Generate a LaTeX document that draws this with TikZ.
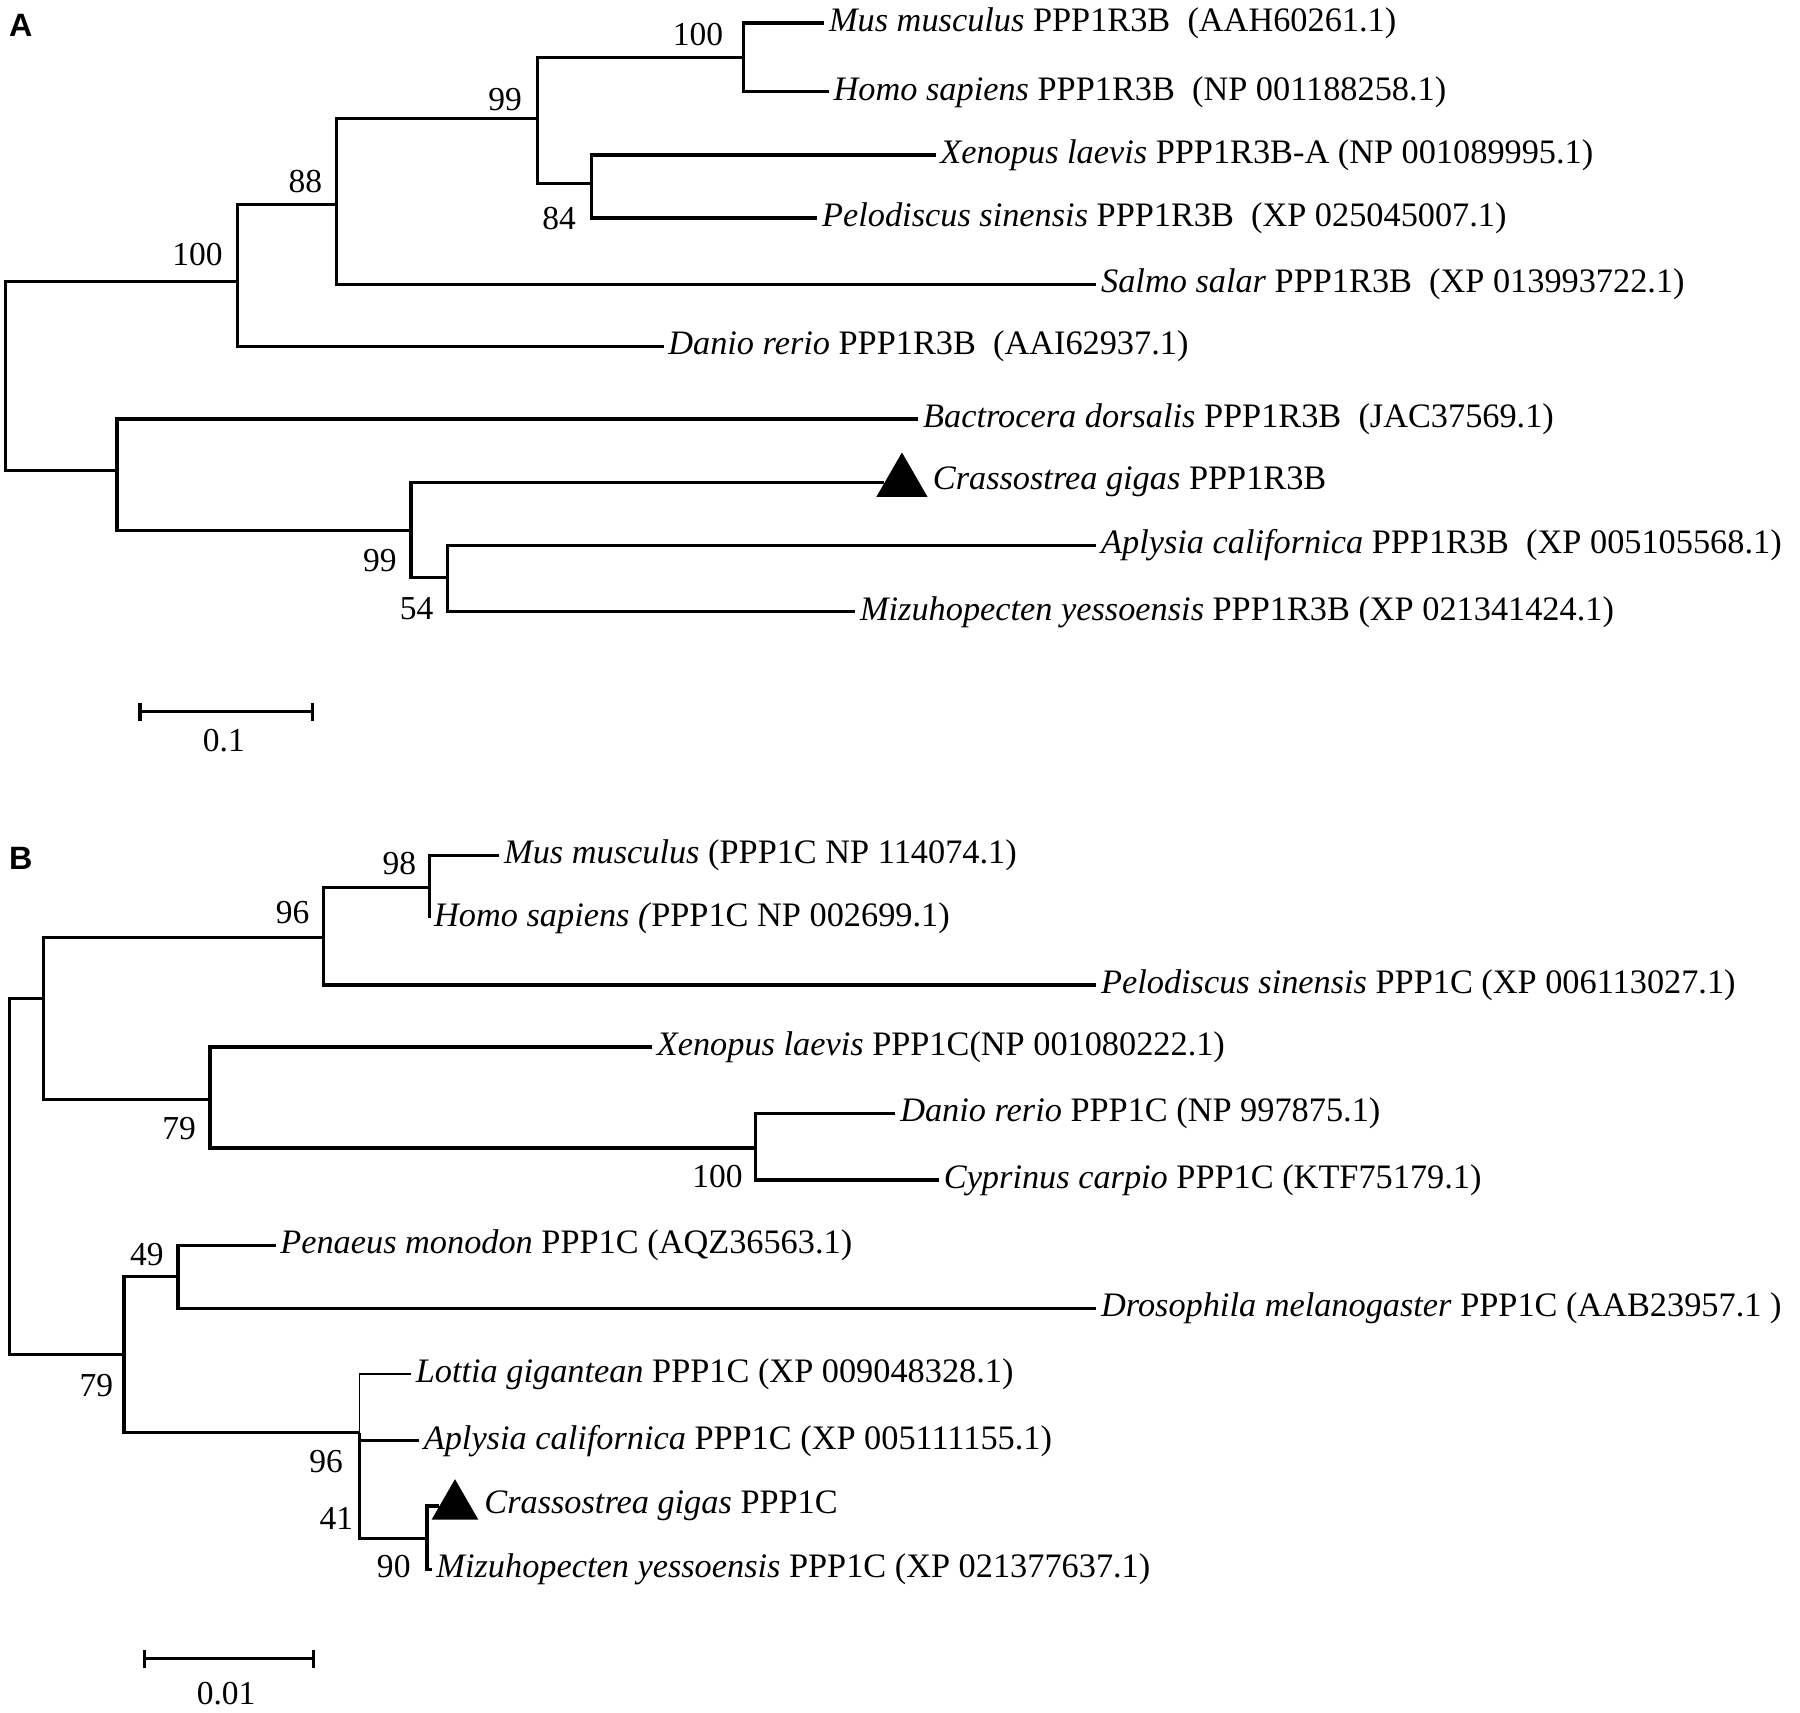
\documentclass[tikz,border=0pt]{standalone}
\usepackage{fontspec}
\setmainfont{Liberation Serif}
\newfontfamily\labelfont{Liberation Sans}
\usetikzlibrary{positioning, calc, shapes.geometric}
\tikzset{leaf/.style={anchor=west, inner sep=1pt, font=\fontsize{8.5}{10}\selectfont},
         boot/.style={inner sep=0pt, font=\fontsize{8.3}{10}\selectfont},
         branch/.style={draw, line width=0.8pt},
         marker/.style={fill, isosceles triangle, shape border rotate=90, isosceles triangle apex angle=60, inner sep=0pt, anchor=west},
         panel/.style={font=\labelfont\bfseries\fontsize{8}{9}\selectfont}}
\begin{document}
\begin{tikzpicture}[x=0.01cm, y=-0.01cm]
    \useasboundingbox (0,0) rectangle (1568,1492);

    % Tree A
    \node (lblA) [panel] at (18,22) {A};
    \node (musA) [leaf] at (718,20) {\textit{Mus musculus} PPP1R3B\enspace(AAH60261.1)};
    \node (homA) [leaf] at (722,80) {\textit{Homo sapiens} PPP1R3B\enspace(NP 001188258.1)};
    \node (xenA) [leaf] at (815,135) {\textit{Xenopus laevis} PPP1R3B-A (NP 001089995.1)};
    \node (pelA) [leaf] at (712,190) {\textit{Pelodiscus sinensis} PPP1R3B\enspace(XP 025045007.1)};
    \node (salA) [leaf] at (955,248) {\textit{Salmo salar} PPP1R3B\enspace(XP 013993722.1)};
    \node (danA) [leaf] at (578,302) {\textit{Danio rerio} PPP1R3B\enspace(AAI62937.1)};
    \node (bacA) [leaf] at (800,365) {\textit{Bactrocera dorsalis} PPP1R3B\enspace(JAC37569.1)};
    \node (triA) [marker, minimum height=11pt] at (770,420) {};
    \node (craA) [leaf, right=2pt of triA] {\textit{Crassostrea gigas} PPP1R3B};
    \node (aplA) [leaf] at (955,475) {\textit{Aplysia californica} PPP1R3B\enspace(XP 005105568.1)};
    \node (mizA) [leaf] at (745,533) {\textit{Mizuhopecten yessoensis} PPP1R3B (XP 021341424.1)};

    \coordinate (a1) at (648,50);
    \coordinate (a2) at (468,103);
    \coordinate (a3) at (515,160);
    \coordinate (a4) at (293,178);
    \coordinate (a5) at (207,245);
    \coordinate (a6) at (5,245);
    \coordinate (a7) at (102,410);
    \coordinate (a8) at (358,462);
    \coordinate (a9) at (390,503);

    \draw [branch] (musA.west) -| (a1) |- (homA.west);
    \draw [branch] (xenA.west) -| (a3) |- (pelA.west);
    \draw [branch] (a1) -| (a2) |- (a3);
    \draw [branch] (a2) -| (a4) |- (salA.west);
    \draw [branch] (a4) -| (a5) |- (danA.west);
    \draw [branch] (aplA.west) -| (a9) |- (mizA.west);
    \draw [branch] (triA.west) -| (a8) |- (a9);
    \draw [branch] (bacA.west) -| (a7) |- (a8);
    \draw [branch] (a5) -| (a6) |- (a7);

    \node (bA1) [boot] at (608,30) {100};
    \node (bA2) [boot] at (440,87) {99};
    \node (bA3) [boot] at (487,190) {84};
    \node (bA4) [boot] at (266,158) {88};
    \node (bA5) [boot] at (172,222) {100};
    \node (bA6) [boot] at (331,488) {99};
    \node (bA7) [boot] at (363,530) {54};

    \coordinate (sA1) at (122,620);
    \coordinate (sA2) at (272,620);
    \draw [branch] (sA1) -- (sA2);
    \draw [branch] ($(sA1)+(0,-8)$) -- ($(sA1)+(0,8)$);
    \draw [branch] ($(sA2)+(0,-8)$) -- ($(sA2)+(0,8)$);
    \node (scA) [boot] at (195,645) {0.1};

    % Tree B
    \node (lblB) [panel] at (18,748) {B};
    \node (musB) [leaf] at (435,745) {\textit{Mus musculus} (PPP1C NP 114074.1)};
    \node (homB) [leaf] at (374,800) {\textit{Homo sapiens (}PPP1C NP 002699.1)};
    \node (pelB) [leaf] at (955,858) {\textit{Pelodiscus sinensis} PPP1C (XP 006113027.1)};
    \node (xenB) [leaf] at (568,912) {\textit{Xenopus laevis} PPP1C(NP 001080222.1)};
    \node (danB) [leaf] at (780,970) {\textit{Danio rerio} PPP1C (NP 997875.1)};
    \node (cypB) [leaf] at (818,1028) {\textit{Cyprinus carpio} PPP1C (KTF75179.1)};
    \node (penB) [leaf] at (240,1085) {\textit{Penaeus monodon} PPP1C (AQZ36563.1)};
    \node (droB) [leaf] at (955,1140) {\textit{Drosophila melanogaster} PPP1C (AAB23957.1 )};
    \node (lotB) [leaf] at (358,1197) {\textit{Lottia gigantean} PPP1C (XP 009048328.1)};
    \node (aplB) [leaf] at (365,1255) {\textit{Aplysia californica} PPP1C (XP 005111155.1)};
    \node (triB) [marker, minimum height=10pt] at (382,1312) {};
    \node (craB) [leaf, right=2pt of triB] {\textit{Crassostrea gigas} PPP1C};
    \node (mizB) [leaf] at (376,1367) {\textit{Mizuhopecten yessoensis} PPP1C (XP 021377637.1)};

    \coordinate (b1) at (374,773);
    \coordinate (b2) at (282,817);
    \coordinate (b3) at (658,1000);
    \coordinate (b4) at (183,958);
    \coordinate (b5) at (38,870);
    \coordinate (b6) at (155,1112);
    \coordinate (b7) at (372,1340);
    \coordinate (b8) at (313,1248);
    \coordinate (b9) at (108,1180);
    \coordinate (b10) at (8,1180);

    \draw [branch] (musB.west) -| (b1) |- (homB.west);
    \draw [branch] (b1) -| (b2) |- (pelB.west);
    \draw [branch] (danB.west) -| (b3) |- (cypB.west);
    \draw [branch] (xenB.west) -| (b4) |- (b3);
    \draw [branch] (b2) -| (b5) |- (b4);
    \draw [branch] (penB.west) -| (b6) |- (droB.west);
    \draw [branch] (triB.west) -| (b7) |- (mizB.west);
    \draw [line width=0.4pt] (lotB.west) -| (b8);
    \draw [branch] (b8) |- (aplB.west);
    \draw [branch] (b8) |- (b7);
    \draw [branch] (b6) -| (b9) |- (b8);
    \draw [branch] (b5) -| (b10) -- (b9);

    \node (bB1) [boot] at (348,752) {98};
    \node (bB2) [boot] at (255,795) {96};
    \node (bB3) [boot] at (156,983) {79};
    \node (bB4) [boot] at (625,1025) {100};
    \node (bB5) [boot] at (128,1093) {49};
    \node (bB6) [boot] at (84,1207) {79};
    \node (bB7) [boot] at (284,1273) {96};
    \node (bB8) [boot] at (293,1323) {41};
    \node (bB9) [boot] at (343,1365) {90};

    \coordinate (sB1) at (126,1445);
    \coordinate (sB2) at (273,1445);
    \draw [branch] (sB1) -- (sB2);
    \draw [branch] ($(sB1)+(0,-8)$) -- ($(sB1)+(0,8)$);
    \draw [branch] ($(sB2)+(0,-8)$) -- ($(sB2)+(0,8)$);
    \node (scB) [boot] at (197,1475) {0.01};
\end{tikzpicture}
\end{document}
